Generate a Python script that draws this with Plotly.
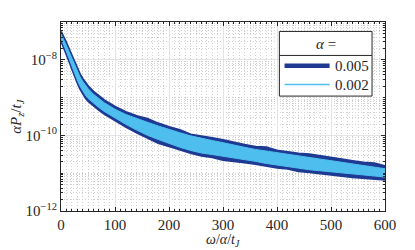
import plotly.graph_objects as go

# ---- data (band envelopes in log10 units) ----
omega = [0, 5, 10, 15, 20, 25, 30, 35, 40, 45, 50, 60, 70, 80, 90, 100,
         120, 140, 160, 180, 200, 220, 240, 260, 280, 300, 320, 340, 360, 380,
         400, 420, 440, 460, 480, 500, 520, 540, 560, 580, 600]

# alpha = 0.005 : upper / lower envelope of the oscillating signal (log10)
a005_hi_log = [-7.249, -7.387, -7.552, -7.718, -7.884, -8.064, -8.230, -8.375, -8.495,
               -8.600, -8.690, -8.840, -8.965, -9.065, -9.150, -9.238, -9.376, -9.486,
               -9.560, -9.680, -9.776, -9.859, -9.975, -10.011, -10.066, -10.122,
               -10.191, -10.246, -10.301, -10.315, -10.398, -10.439, -10.481, -10.500,
               -10.550, -10.591, -10.633, -10.674, -10.715, -10.735, -10.812]
a005_lo_log = [-7.497, -7.663, -7.843, -8.036, -8.229, -8.430, -8.600, -8.760, -8.890,
               -9.000, -9.090, -9.220, -9.330, -9.435, -9.525, -9.610, -9.776, -9.928,
               -10.066, -10.205, -10.287, -10.384, -10.467, -10.536, -10.577, -10.650,
               -10.674, -10.715, -10.757, -10.812, -10.854, -10.885, -10.950, -10.978,
               -11.006, -11.033, -11.075, -11.110, -11.130, -11.157, -11.171]

# alpha = 0.002 : upper / lower envelope (log10)
a002_hi_log = [-7.319, -7.457, -7.622, -7.788, -7.954, -8.134, -8.300, -8.445, -8.565,
               -8.670, -8.760, -8.910, -9.035, -9.135, -9.220, -9.308, -9.446, -9.556,
               -9.653, -9.750, -9.846, -9.929, -10.012, -10.081, -10.136, -10.192,
               -10.261, -10.316, -10.371, -10.413, -10.468, -10.509, -10.551, -10.592,
               -10.620, -10.661, -10.703, -10.744, -10.785, -10.827, -10.882]
a002_lo_log = [-7.427, -7.593, -7.773, -7.966, -8.159, -8.360, -8.530, -8.690, -8.820,
               -8.930, -9.020, -9.150, -9.260, -9.365, -9.455, -9.540, -9.706, -9.858,
               -9.996, -10.107, -10.217, -10.314, -10.397, -10.466, -10.507, -10.549,
               -10.604, -10.645, -10.687, -10.742, -10.784, -10.825, -10.880, -10.908,
               -10.936, -10.963, -11.005, -11.032, -11.060, -11.087, -11.101]

series_names = ["0.005", "0.002"]
legend_title = "<i>α</i> ="
y_tick_vals = [1e-12, 1e-10, 1e-8]
y_tick_text = ["10<sup>−12</sup>", "10<sup>−10</sup>", "10<sup>−8</sup>"]
x_tick_vals = [0, 100, 200, 300, 400, 500, 600]

a005_hi = [10.0 ** v for v in a005_hi_log]
a005_lo = [10.0 ** v for v in a005_lo_log]
a002_hi = [10.0 ** v for v in a002_hi_log]
a002_lo = [10.0 ** v for v in a002_lo_log]

DARK = "#1f3a93"
LIGHT = "#4dbeee"
FONT = "Liberation Serif"
AX = "#262626"
MINOR = dict(showgrid=True, gridcolor="#d0d0d0", griddash="1px,2px", gridwidth=1,
             ticks="inside", ticklen=2, tickcolor=AX)

fig = go.Figure()

fig.add_trace(go.Scatter(x=omega, y=a005_lo, mode="lines",
                         line=dict(color=DARK, width=2), showlegend=False,
                         hoverinfo="skip"))
fig.add_trace(go.Scatter(x=omega, y=a005_hi, mode="lines", fill="tonexty",
                         fillcolor=DARK, line=dict(color=DARK, width=2),
                         name=series_names[0], showlegend=False))
fig.add_trace(go.Scatter(x=omega, y=a002_lo, mode="lines",
                         line=dict(color=LIGHT, width=1), showlegend=False,
                         hoverinfo="skip"))
fig.add_trace(go.Scatter(x=omega, y=a002_hi, mode="lines", fill="tonexty",
                         fillcolor=LIGHT, line=dict(color=LIGHT, width=1),
                         name=series_names[1], showlegend=False))

minor_y = [m * 10.0 ** e for e in range(-12, -7) for m in range(2, 10)] + [1e-11, 1e-9]

# page body has an 8px margin: size the figure so the plot area lands where the reference has it
fig.update_layout(
    width=407, height=242,
    margin=dict(l=53, r=30, t=14, b=39),
    paper_bgcolor="white", plot_bgcolor="white",
    font=dict(family=FONT, size=15, color=AX),
    xaxis=dict(
        range=[0, 600], tickvals=x_tick_vals, ticks="inside", ticklen=4,
        tickcolor=AX, showline=True, linecolor=AX, linewidth=1,
        mirror="allticks", showgrid=True, gridcolor="#e3e3e3", gridwidth=1,
        zeroline=False, automargin=False,
        minor=dict(dtick=10, **MINOR),
        tickfont=dict(size=15),
    ),
    yaxis=dict(
        type="log", range=[-12, -7], tickvals=y_tick_vals, ticktext=y_tick_text,
        ticks="inside", ticklen=4, tickcolor=AX, showline=True,
        linecolor=AX, linewidth=1, mirror="allticks", showgrid=True,
        gridcolor="#e3e3e3", gridwidth=1, zeroline=False, automargin=False,
        minor=dict(tickvals=minor_y, **MINOR),
        tickfont=dict(size=15),
    ),
)

# axis titles
fig.add_annotation(xref="paper", yref="paper", x=0.5, y=-0.155, yanchor="middle",
                   text="<i>ω</i>/<i>α</i>/<i>t<sub>J</sub></i>", showarrow=False,
                   font=dict(size=14, family=FONT))
fig.add_annotation(xref="paper", yref="paper", x=-0.138, y=0.5, xanchor="center",
                   text="<i>αP<sub>z</sub></i>/<i>t<sub>J</sub></i>", showarrow=False,
                   textangle=-90, font=dict(size=15, family=FONT))

# manual legend box (MATLAB style with titled header)
bx0, bx1, by0, by1, bsep = 0.674, 0.960, 0.608, 0.950, 0.823
fig.add_shape(type="rect", xref="paper", yref="paper", x0=bx0, x1=bx1, y0=by0, y1=by1,
              fillcolor="white", line=dict(color=AX, width=1), layer="above")
fig.add_shape(type="line", xref="paper", yref="paper", x0=bx0, x1=bx1, y0=bsep, y1=bsep,
              line=dict(color=AX, width=1), layer="above")
fig.add_shape(type="line", xref="paper", yref="paper", x0=0.690, x1=0.829, y0=0.768, y1=0.768,
              line=dict(color=DARK, width=4.5), layer="above")
fig.add_shape(type="line", xref="paper", yref="paper", x0=0.690, x1=0.829, y0=0.669, y1=0.669,
              line=dict(color=LIGHT, width=1.5), layer="above")
fig.add_annotation(xref="paper", yref="paper", x=(bx0 + bx1) / 2, y=0.886,
                   xanchor="center", yanchor="middle",
                   text=legend_title, showarrow=False, font=dict(size=15, family=FONT))
fig.add_annotation(xref="paper", yref="paper", x=0.838, y=0.768, xanchor="left",
                   yanchor="middle", text=series_names[0], showarrow=False,
                   font=dict(size=15, family=FONT))
fig.add_annotation(xref="paper", yref="paper", x=0.838, y=0.669, xanchor="left",
                   yanchor="middle", text=series_names[1], showarrow=False,
                   font=dict(size=15, family=FONT))

fig.write_html("out.html")
